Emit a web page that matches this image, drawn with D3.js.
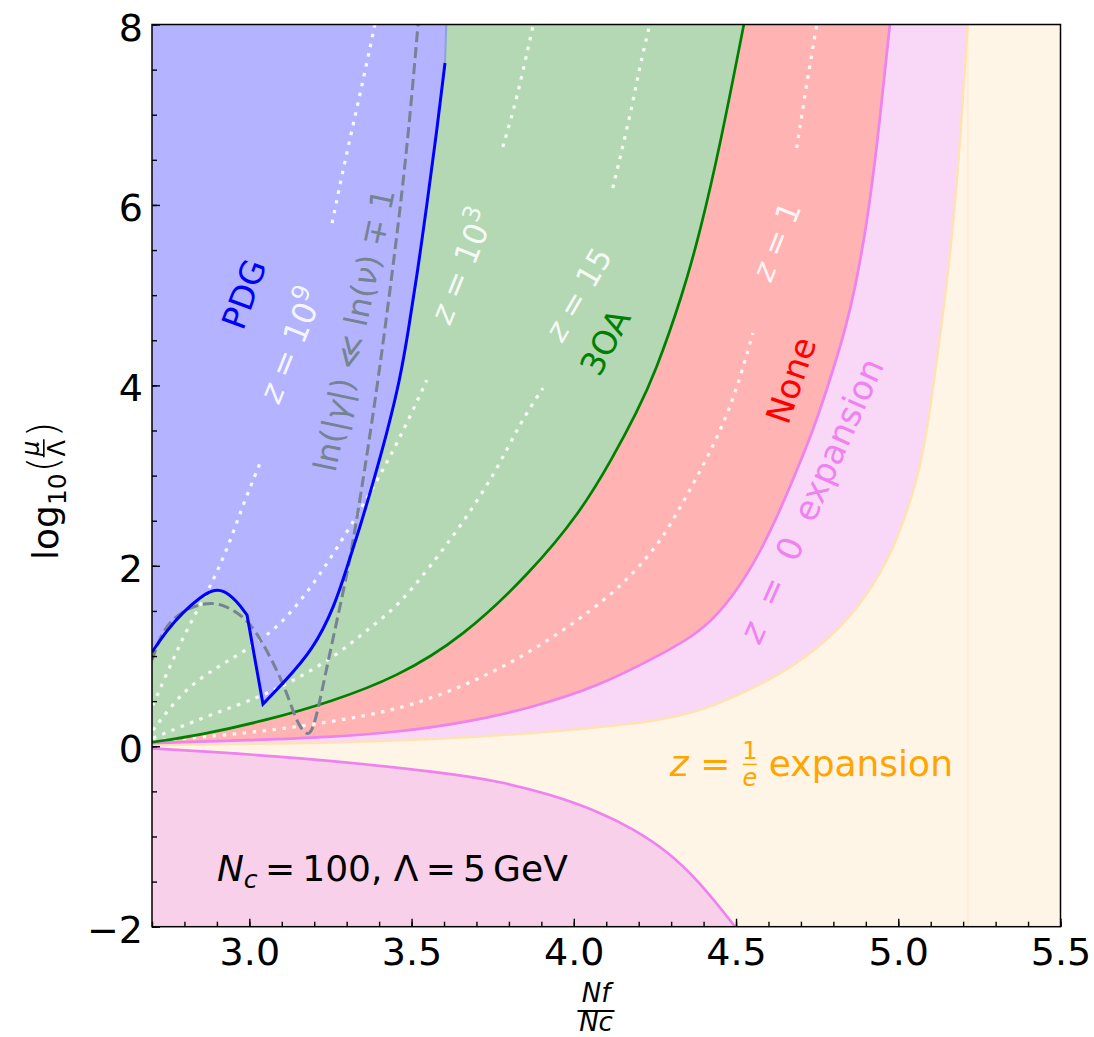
<!DOCTYPE html>
<html>
<head>
<meta charset="utf-8">
<script src="https://cdn.jsdelivr.net/npm/d3@7/dist/d3.min.js"></script>
<style>
  body { margin: 0; background: #fff; }
  text { font-family: "DejaVu Sans", sans-serif; }
</style>
</head>
<body>
<div id="chart"></div>
<script>
// Curves: [Nf/Nc, log10(mu/Lambda)]
var pdgBump = [[2.700, 1.043], [2.746, 1.287], [2.796, 1.487], [2.848, 1.652], [2.888, 1.735],
               [2.919, 1.735], [2.962, 1.610], [2.993, 1.453]];
var pdgRise = [[3.042, 0.467], [3.104, 0.700], [3.196, 1.065], [3.264, 1.564], [3.301, 1.986],
               [3.341, 2.429], [3.381, 2.917], [3.424, 3.471], [3.464, 4.059], [3.489, 4.580],
               [3.520, 5.300], [3.547, 5.999], [3.575, 6.742], [3.603, 7.573]];
var pdgTop = [3.607, 8];

var oaCurve = [[2.700, 0.045], [2.848, 0.123], [3.054, 0.289], [3.249, 0.489], [3.455, 0.766],
               [3.658, 1.210], [3.865, 1.919], [4.019, 2.584], [4.121, 3.205], [4.195, 3.710],
               [4.250, 4.130], [4.336, 5.012], [4.389, 5.700], [4.450, 6.642], [4.524, 8.000]];

var zeroUpper = [[2.700, 0.034], [3.002, 0.068], [3.249, 0.101], [3.455, 0.156], [3.658, 0.256],
                 [3.865, 0.422], [4.071, 0.655], [4.265, 1.010], [4.358, 1.198], [4.441, 1.431],
                 [4.543, 1.930], [4.626, 2.529], [4.697, 3.139], [4.749, 3.615], [4.799, 4.170],
                 [4.836, 4.613], [4.866, 5.057], [4.903, 5.777], [4.937, 6.720], [4.974, 8.000]];

var zeroLower = [[2.700, -0.024], [3.156, -0.121], [3.618, -0.298], [3.772, -0.392], [3.927, -0.531],
                 [4.081, -0.730], [4.182, -0.914], [4.287, -1.158], [4.389, -1.507], [4.497, -2.000]];

var eCurve = [[2.700, 0.012], [3.249, 0.034], [3.658, 0.090], [3.957, 0.167], [4.265, 0.280],
              [4.400, 0.400], [4.543, 0.622], [4.697, 0.921], [4.851, 1.398], [4.953, 1.952],
              [5.005, 2.373], [5.057, 2.928], [5.088, 3.482], [5.119, 4.280], [5.150, 5.134],
              [5.175, 5.999], [5.193, 6.830], [5.214, 8.000]];
var eAsymptote = 5.214;

var gammaCurve = [[2.700, 0.955], [2.734, 1.309], [2.796, 1.509], [2.857, 1.586], [2.909, 1.586],
                  [2.962, 1.487], [3.002, 1.365], [3.042, 1.143], [3.085, 0.843], [3.116, 0.589],
                  [3.147, 0.256], [3.178, 0.110], [3.196, 0.178], [3.218, 0.511], [3.248, 1.032],
                  [3.279, 1.542], [3.310, 2.063], [3.341, 2.728], [3.393, 3.948], [3.433, 5.034],
                  [3.470, 6.110], [3.495, 6.974], [3.520, 8.000]];

// z contours, split where the inline label sits
var z9Low = [[2.703, 0.456], [2.777, 1.065], [2.826, 1.420], [2.879, 1.764], [2.931, 2.174],
             [2.980, 2.673], [3.033, 3.139]];
var z9High = [[3.255, 5.799], [3.295, 6.498], [3.341, 7.218], [3.387, 8.000]];
var z3Low = [[2.703, 0.178], [2.796, 0.622], [2.900, 0.877], [3.002, 1.088], [3.104, 1.365],
             [3.208, 1.841], [3.310, 2.429], [3.372, 2.806], [3.433, 3.205], [3.486, 3.582],
             [3.547, 4.059]];
var z3High = [[3.781, 6.642], [3.824, 7.163], [3.875, 8.000]];
var z15Low = [[2.703, 0.090], [2.869, 0.334], [3.033, 0.544], [3.156, 0.766], [3.270, 1.010],
              [3.362, 1.287], [3.455, 1.542], [3.556, 1.986], [3.658, 2.473], [3.763, 3.061],
              [3.834, 3.582], [3.905, 3.970]];
var z15High = [[4.120, 6.187], [4.173, 6.974], [4.203, 7.529], [4.234, 8.000]];
var z1Low = [[2.703, 0.057], [3.002, 0.145], [3.248, 0.267], [3.455, 0.400], [3.658, 0.655],
             [3.865, 1.032], [4.071, 1.542], [4.173, 1.875], [4.265, 2.252], [4.336, 2.695],
             [4.441, 3.394], [4.502, 3.948], [4.552, 4.580]];
var z1High = [[4.687, 6.631], [4.718, 7.351], [4.749, 8.000]];

var xTicks = [3.0, 3.5, 4.0, 4.5, 5.0, 5.5];
var yTicks = [-2, 0, 2, 4, 6, 8];

// Layout
var width = 1094, height = 1037;
var margin = {left: 152, top: 24.5, right: 33.5, bottom: 110.3};
var plotW = width - margin.left - margin.right;
var plotH = height - margin.top - margin.bottom;

var svg = d3.select("#chart")
    .append("svg")
    .attr("width", width)
    .attr("height", height);

var xScale = d3.scaleLinear().domain([2.7, 5.5]).range([0, plotW]);
var yScale = d3.scaleLinear().domain([-2, 8]).range([plotH, 0]);

var plot = svg.append("g")
    .attr("transform", `translate(${margin.left},${margin.top})`);

plot.append("defs").append("clipPath").attr("id", "clip")
    .append("rect").attr("width", plotW).attr("height", plotH);

var layer = plot.append("g").attr("clip-path", "url(#clip)");

var line = d3.line()
    .x(function(d) { return xScale(d[0]); })
    .y(function(d) { return yScale(d[1]); })
    .curve(d3.curveBasis);

function joined(a, b) {
  return line(a) + line(b).replace(/^M/, "L");
}
function closeTop(path, lastX) {
  return path + `L${xScale(lastX)},0L${xScale(2.7)},0Z`;
}

// background: z = 1/e expansion region
layer.append("rect")
    .attr("width", plotW).attr("height", plotH)
    .attr("fill", "#fff5e6");

// z = 0 expansion band
layer.append("path")
    .attr("d", closeTop(line(eCurve), eAsymptote))
    .attr("fill", "#f9d7f7");

// None
layer.append("path")
    .attr("d", closeTop(line(zeroUpper), zeroUpper[zeroUpper.length - 1][0]))
    .attr("fill", "#ffb3b3");

// 3OA
layer.append("path")
    .attr("d", closeTop(line(oaCurve), oaCurve[oaCurve.length - 1][0]))
    .attr("fill", "#b3d8b3");

// PDG
layer.append("path")
    .attr("d", closeTop(joined(pdgBump, pdgRise) + `L${xScale(pdgTop[0])},${yScale(pdgTop[1])}`, pdgTop[0]))
    .attr("fill", "#b3b3ff");

// lower band below z = 0
layer.append("path")
    .attr("d", line(zeroLower) + `L${xScale(zeroLower[zeroLower.length - 1][0])},${plotH}L0,${plotH}Z`)
    .attr("fill", "#f8d0e9");

// faint asymptote edge
layer.append("line")
    .attr("x1", xScale(eAsymptote)).attr("x2", xScale(eAsymptote))
    .attr("y1", 0).attr("y2", plotH)
    .attr("stroke", "#fdecd8").attr("stroke-width", 2);

layer.append("line")
    .attr("x1", xScale(pdgRise[pdgRise.length - 1][0])).attr("x2", xScale(pdgTop[0]))
    .attr("y1", yScale(pdgRise[pdgRise.length - 1][1])).attr("y2", 0)
    .attr("stroke", "#8fa3d6").attr("stroke-width", 2);

// white dotted z contours
[z9Low, z9High, z3Low, z3High, z15Low, z15High, z1Low, z1High].forEach(function(seg) {
  layer.append("path")
      .attr("d", line(seg))
      .attr("fill", "none")
      .attr("stroke", "rgba(255,255,255,0.9)")
      .attr("stroke-width", 3.2)
      .attr("stroke-dasharray", "3.5,6.5");
});

// boundary lines
layer.append("path").attr("d", line(eCurve))
    .attr("fill", "none").attr("stroke", "#fde2b5").attr("stroke-width", 2.5);
layer.append("path").attr("d", line(zeroUpper))
    .attr("fill", "none").attr("stroke", "#ee82ee").attr("stroke-width", 2.7);
layer.append("path").attr("d", line(zeroLower))
    .attr("fill", "none").attr("stroke", "#ee82ee").attr("stroke-width", 2.7);
layer.append("path").attr("d", line(oaCurve))
    .attr("fill", "none").attr("stroke", "#008000").attr("stroke-width", 2.7);
layer.append("path").attr("d", line(gammaCurve))
    .attr("fill", "none").attr("stroke", "#768391").attr("stroke-width", 3)
    .attr("stroke-dasharray", "11,5");
layer.append("path").attr("d", joined(pdgBump, pdgRise))
    .attr("fill", "none").attr("stroke", "#0000ff").attr("stroke-width", 3);

// in-plot labels
function mathText(g, parts, size) {
  var t = g.append("text").attr("font-size", size);
  var shift = 0;
  parts.forEach(function(p) {
    var s = t.append("tspan").text(p.t);
    var target = p.sup ? -0.42 * size : (p.sub ? 0.2 * size : 0);
    s.attr("dy", target - shift);
    shift = target;
    if (p.i) s.attr("font-style", "italic");
    if (p.sup) s.attr("font-size", size * 0.75);
    if (p.sub) s.attr("font-size", size * 0.7);
  });
  return t;
}

var white = "rgba(255,255,255,0.9)";
var labels = [
  {x: 2.983, y: 5.012, a: -70, c: "#0000ff", s: 33, parts: [{t: "PDG"}]},
  {x: 3.128, y: 4.447, a: -68, c: white, s: 32,
   parts: [{t: "z", i: 1}, {t: " = 10"}, {t: "9", sup: 1}]},
  {x: 3.322, y: 4.613, a: -78, c: "#768391", s: 32,
   parts: [{t: "ln(|"}, {t: "γ", i: 1}, {t: "|) ≪ ln("}, {t: "ν", i: 1}, {t: ") ∓ 1"}]},
  {x: 3.655, y: 5.323, a: -68, c: white, s: 32,
   parts: [{t: "z", i: 1}, {t: " = 10"}, {t: "3", sup: 1}]},
  {x: 4.013, y: 5.012, a: -60, c: white, s: 31,
   parts: [{t: "z", i: 1}, {t: " = 15"}]},
  {x: 4.096, y: 4.480, a: -62, c: "#008000", s: 33, parts: [{t: "3OA"}]},
  {x: 4.623, y: 5.600, a: -68, c: white, s: 31,
   parts: [{t: "z", i: 1}, {t: " = 1"}]},
  {x: 4.669, y: 4.059, a: -71, c: "#ff0000", s: 34, parts: [{t: "None"}]},
  {x: 4.731, y: 2.728, a: -66, c: "#ee82ee", s: 34,
   parts: [{t: "z", i: 1}, {t: "  =  0  expansion"}]}
];

labels.forEach(function(l) {
  var g = plot.append("g")
      .attr("transform", `translate(${xScale(l.x)},${yScale(l.y)}) rotate(${l.a})`);
  mathText(g, l.parts, l.s)
      .attr("text-anchor", "middle")
      .attr("y", l.s * 0.36)
      .attr("fill", l.c)
      .style("white-space", "pre");
});

// z = 1/e expansion
var eLab = plot.append("g")
    .attr("transform", `translate(${xScale(4.296)},${yScale(-0.332)})`)
    .attr("fill", "#ffa500");
var eq = mathText(eLab, [{t: "z", i: 1}, {t: " = "}], 36).style("white-space", "pre");
var eqW = eq.node().getComputedTextLength();
eLab.append("text").attr("x", eqW + 8).attr("y", -17).attr("font-size", 24)
    .attr("text-anchor", "middle").text("1");
eLab.append("rect").attr("x", eqW + 1).attr("y", -12.5).attr("width", 14).attr("height", 1.4);
eLab.append("text").attr("x", eqW + 8).attr("y", 10).attr("font-size", 24)
    .attr("text-anchor", "middle").attr("font-style", "italic").text("e");
eLab.append("text").attr("x", eqW + 27).attr("font-size", 36).text("expansion");

// parameters
mathText(plot.append("g").attr("transform", `translate(${xScale(2.9)},${yScale(-1.496)})`),
    [{t: "N", i: 1}, {t: "c", i: 1, sub: 1}, {t: "\u2009=\u2009100, Λ\u2009=\u20095\u2009GeV"}], 36)
    .style("white-space", "pre");

// frame
plot.append("rect")
    .attr("width", plotW).attr("height", plotH)
    .attr("fill", "none").attr("stroke", "#000").attr("stroke-width", 1.5);

// axes with inward ticks
var xAxis = d3.axisBottom(xScale)
    .tickValues(xTicks)
    .tickFormat(d3.format(".1f"))
    .tickSize(-8).tickPadding(11);
var xMinor = d3.axisBottom(xScale)
    .tickValues(d3.range(27, 56).map(function(v) { return v / 10; }))
    .tickFormat("").tickSize(-5);

var yAxis = d3.axisLeft(yScale)
    .tickValues(yTicks)
    .tickFormat(function(d) { return d < 0 ? "\u2212" + Math.abs(d) : d; })
    .tickSize(-8).tickPadding(9);
var yMinor = d3.axisLeft(yScale)
    .tickValues(d3.range(-4, 17).map(function(v) { return v / 2; }))
    .tickFormat("").tickSize(-5);

[
  [xMinor, `translate(0,${plotH})`], [xAxis, `translate(0,${plotH})`],
  [yMinor, null], [yAxis, null]
].forEach(function(ax) {
  var g = plot.append("g").call(ax[0]);
  if (ax[1]) g.attr("transform", ax[1]);
  g.select(".domain").remove();
  g.selectAll("line").attr("stroke", "#000").attr("stroke-width", 1.4);
  g.selectAll("text")
      .attr("font-family", "DejaVu Sans")
      .attr("font-size", 38)
      .attr("fill", "#000");
});
svg.selectAll(".tick text").each(function() {
  var t = d3.select(this);
  if (t.attr("x") !== null && +t.attr("x") < 0) t.attr("dy", "0.41em");
});

// axis titles
var xTitle = svg.append("g")
    .attr("transform", "translate(596,0)")
    .attr("font-size", 26).attr("font-style", "italic").attr("text-anchor", "middle");
xTitle.append("text").attr("y", 1002).text("Nf");
xTitle.append("rect").attr("x", -18.5).attr("y", 1010).attr("width", 37).attr("height", 2);
xTitle.append("text").attr("y", 1031).text("Nc");

var yTitle = svg.append("g")
    .attr("transform", "translate(58,560) rotate(-90)");
var yl = yTitle.append("text").attr("font-size", 36);
yl.append("tspan").text("log");
yl.append("tspan").attr("font-size", 25).attr("dy", 8).text("10");
var ylW = yl.node().getComputedTextLength();
yTitle.append("text").attr("x", ylW + 1).attr("y", -1).attr("font-size", 40)
    .attr("font-weight", 200).text("(");
yTitle.append("text").attr("x", ylW + 25).attr("y", -19).attr("font-size", 24)
    .attr("text-anchor", "middle").attr("font-style", "italic").text("μ");
yTitle.append("rect").attr("x", ylW + 16).attr("y", -15).attr("width", 18).attr("height", 1.6);
yTitle.append("text").attr("x", ylW + 25).attr("y", 7).attr("font-size", 24)
    .attr("text-anchor", "middle").text("Λ");
yTitle.append("text").attr("x", ylW + 36).attr("y", -1).attr("font-size", 40)
    .attr("font-weight", 200).text(")");
</script>
</body>
</html>
